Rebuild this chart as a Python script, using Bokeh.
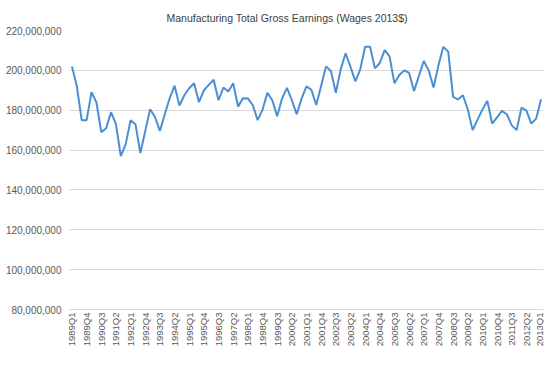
import math
from bokeh.plotting import figure
from bokeh.models import ColumnDataSource, FixedTicker, NumeralTickFormatter, Range1d
from bokeh.embed import file_html
from bokeh.resources import INLINE

# Quarter categories 1989Q1 .. 2013Q1
quarters = [f"{y}Q{q}" for y in range(1989, 2014) for q in range(1, 5)][:97]

# Total gross earnings, millions of 2013 dollars
earnings_m = [
    202, 192, 175, 175, 189, 184, 169, 171, 179, 173,
    157, 163, 175, 173, 158.5, 169.6, 180.5, 176.6, 169.6, 178,
    186, 192.3, 182.3, 187.5, 191, 193.5, 184, 190, 192.7, 195.3,
    185, 191.4, 189.4, 193.5, 181.8, 186, 185.9, 182.6, 175, 180.2,
    188.8, 185, 177, 185.9, 191.2, 185, 178, 185.9, 192, 190.2,
    182.6, 192.3, 202, 199.7, 188.8, 200.5, 208.6, 201.8, 194.5, 200.5,
    211.9, 211.9, 201, 203.7, 210.2, 207, 193.5, 197.7, 200, 198.7,
    189.6, 197.2, 204.7, 200, 191.4, 202.5, 211.8, 209.4, 186.7, 185.4,
    187.5, 180.5, 170, 175.3, 180.3, 184.7, 173.3, 176.4, 179.7, 178,
    172.4, 170, 181.3, 179.8, 173.3, 175.8, 185.5,
]

y_ticks = [80e6, 100e6, 120e6, 140e6, 160e6, 180e6, 200e6, 220e6]
label_every = 3

source = ColumnDataSource(dict(
    x=list(range(len(quarters))),
    y=[v * 1e6 for v in earnings_m],
))

p = figure(width=544, height=349, output_backend="svg", toolbar_location=None,
           x_range=Range1d(-0.5, len(quarters) - 0.5),
           y_range=Range1d(y_ticks[0], y_ticks[-1]),
           min_border_left=69, min_border_right=1, min_border_top=30, min_border_bottom=0)

p.title.text = "Manufacturing Total Gross Earnings (Wages 2013$)"
p.title.text_font = "Liberation Sans"
p.title.text_font_size = "10.5px"
p.title.text_font_style = "normal"
p.title.text_color = "#404040"
p.title.align = "left"
p.title.offset = 97
p.title.standoff = 14

p.line("x", "y", source=source, line_color="#4A8FD4", line_width=2)

p.outline_line_color = None
p.background_fill_color = "white"
p.border_fill_color = "white"

p.xgrid.grid_line_color = None
p.ygrid.grid_line_color = "#d9d9d9"
p.ygrid.grid_line_width = 1

tick_idx = list(range(0, len(quarters), label_every))
p.xaxis.ticker = FixedTicker(ticks=tick_idx)
p.xaxis.major_label_overrides = {i: quarters[i] for i in tick_idx}
p.xaxis.major_label_orientation = math.pi / 2
p.xaxis.axis_line_color = "#d9d9d9"
p.xaxis.major_tick_line_color = None
p.xaxis.minor_tick_line_color = None
p.xaxis.major_tick_out = 0
p.xaxis.major_tick_in = 0
p.xaxis.major_label_standoff = 3
p.xaxis.major_label_text_font = "Liberation Sans"
p.xaxis.major_label_text_font_size = "9.5px"
p.xaxis.major_label_text_color = "#595959"

p.yaxis.ticker = FixedTicker(ticks=y_ticks)
p.yaxis.formatter = NumeralTickFormatter(format="0,0")
p.yaxis.axis_line_color = None
p.yaxis.major_tick_line_color = None
p.yaxis.minor_tick_line_color = None
p.yaxis.major_tick_out = 0
p.yaxis.major_tick_in = 0
p.yaxis.major_label_standoff = 8
p.yaxis.major_label_text_font = "Liberation Sans"
p.yaxis.major_label_text_font_size = "10px"
p.yaxis.major_label_text_color = "#595959"

open("out.html", "w").write(file_html(p, INLINE))
